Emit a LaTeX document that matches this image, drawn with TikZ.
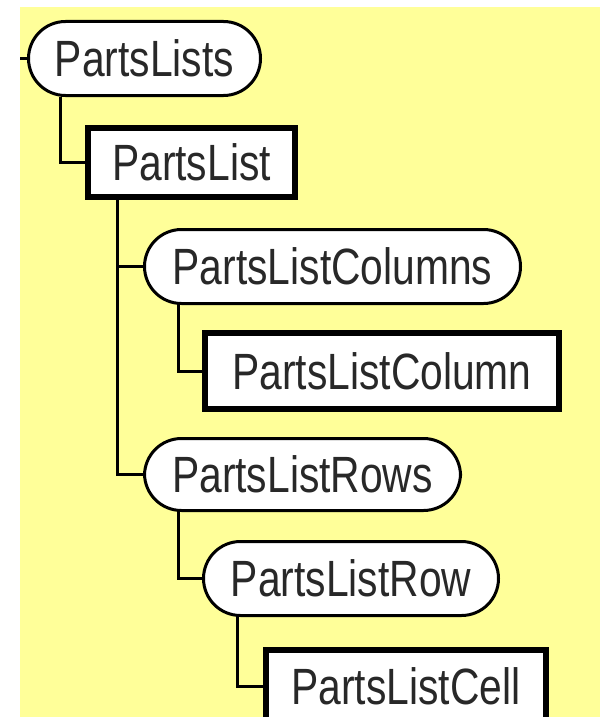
\documentclass[tikz,border=0pt]{standalone}
\usepackage{fontspec}
\newfontfamily\lblfont[FakeStretch=0.8]{Liberation Sans}
\definecolor{bgyellow}{RGB}{255,255,153}
\definecolor{txtgray}{RGB}{40,40,40}
\begin{document}
\begin{tikzpicture}[x=1pt,y=-1pt,
  lbl/.style={font=\lblfont\fontsize{51}{60}\selectfont, text=txtgray, inner sep=0pt, anchor=center},
  stadium/.style={lbl, draw=black, line width=3pt, fill=white, rounded corners=37pt},
  elembox/.style={lbl, draw=black, line width=6pt, fill=white},
  conn/.style={draw=black, line width=3pt}]
\useasboundingbox (0,0) rectangle (600,717);
\clip (0,0) rectangle (600,717);
\fill[white] (0,0) rectangle (600,717);
\fill[bgyellow] (20,7) rectangle (600,717);

\node[stadium, minimum width=232pt, minimum height=74pt] (PartsLists) at (144.5,58.5) {PartsLists};
\node[elembox, minimum width=207pt, minimum height=69pt] (PartsList) at (191.5,162.5) {PartsList};
\node[stadium, minimum width=376pt, minimum height=74pt] (Columns) at (332.5,266.5) {PartsListColumns};
\node[elembox, minimum width=354pt, minimum height=76pt] (Column) at (382,371) {PartsListColumn};
\node[stadium, minimum width=316pt, minimum height=72pt] (Rows) at (302.5,474.5) {PartsListRows};
\node[stadium, minimum width=295pt, minimum height=74pt] (Row) at (351,578.5) {PartsListRow};
\node[elembox, minimum width=280pt, minimum height=72pt] (Cell) at (406,686) {PartsListCell};

\coordinate (stub) at (20,58.5);
\coordinate (t1) at (60,0);
\coordinate (t2) at (117,0);
\coordinate (t3) at (178,0);
\coordinate (t4) at (237,0);

\draw[conn] (stub) -- (PartsLists.west);
\draw[conn] (PartsLists.south -| t1) |- (PartsList.west);
\draw[conn] (PartsList.south -| t2) |- (Rows.west);
\draw[conn] (Columns.west -| t2) -- (Columns.west);
\draw[conn] (Columns.south -| t3) |- (Column.west);
\draw[conn] (Rows.south -| t3) |- (Row.west);
\draw[conn] (Row.south -| t4) |- (Cell.west);
\end{tikzpicture}
\end{document}
